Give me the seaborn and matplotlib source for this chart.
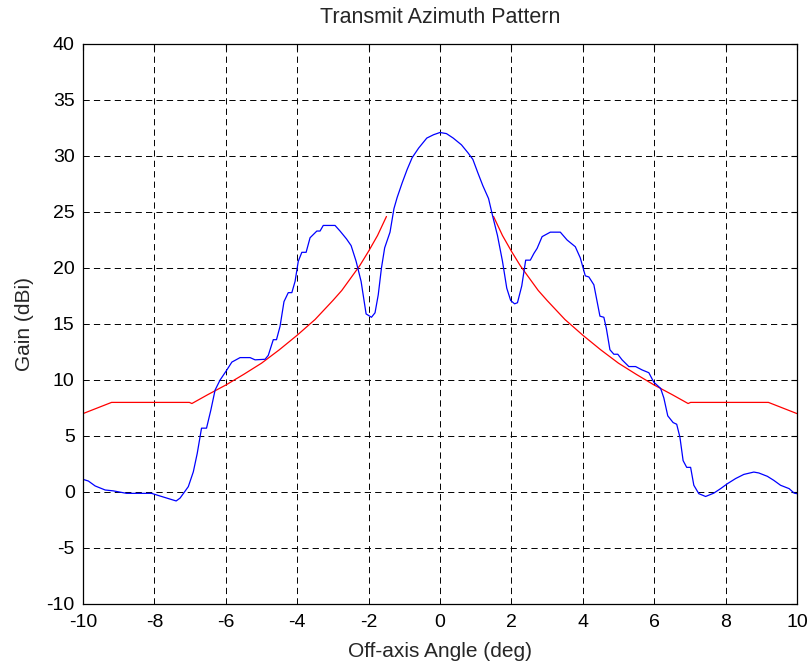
import matplotlib
matplotlib.use("Agg")
import matplotlib.pyplot as plt
import seaborn as sns
import pandas as pd

# ---- data ----
blue_angle = [-10.0, -9.85, -9.66, -9.38, -9.15, -8.78, -8.08, -7.84, -7.39, -7.28,
              -7.05, -6.91, -6.80, -6.68, -6.54, -6.42, -6.30, -6.16, -5.97, -5.83,
              -5.60, -5.32, -5.18, -4.90, -4.81, -4.67, -4.58, -4.48, -4.37, -4.25,
              -4.15, -4.06, -3.97, -3.87, -3.75, -3.64, -3.45, -3.36, -3.27, -2.94,
              -2.80, -2.62, -2.49, -2.35, -2.21, -2.07, -1.92, -1.82, -1.73, -1.64,
              -1.55, -1.40, -1.29, -1.20, -1.06, -0.92, -0.78, -0.60, -0.37, -0.18,
              0.0, 0.18, 0.37, 0.60, 0.78, 0.92, 1.06, 1.20, 1.36, 1.47,
              1.61, 1.75, 1.87, 1.98, 2.09, 2.17, 2.29, 2.40, 2.53, 2.63,
              2.72, 2.86, 3.09, 3.37, 3.56, 3.79, 3.93, 4.07, 4.17, 4.31,
              4.48, 4.59, 4.66, 4.76, 4.87, 4.98, 5.10, 5.29, 5.48, 5.66,
              5.85, 5.99, 6.18, 6.27, 6.38, 6.53, 6.63, 6.72, 6.81, 6.91,
              7.02, 7.11, 7.25, 7.44, 7.67, 7.86, 8.05, 8.28, 8.51, 8.79,
              8.93, 9.17, 9.35, 9.54, 9.78, 9.92, 10.0]
blue_gain = [1.13, 0.98, 0.54, 0.18, 0.10, -0.12, -0.12, -0.36, -0.80, -0.54,
             0.48, 1.8, 3.45, 5.7, 5.7, 7.3, 9.1, 10.0, 10.9, 11.6,
             12.0, 12.0, 11.8, 11.85, 12.2, 13.6, 13.6, 14.8, 17.0, 17.8,
             17.8, 18.8, 20.6, 21.4, 21.4, 22.7, 23.3, 23.3, 23.8, 23.8,
             23.3, 22.6, 22.0, 20.6, 18.8, 15.9, 15.6, 16.0, 17.6, 20.0,
             21.8, 23.2, 25.3, 26.3, 27.6, 28.8, 29.85, 30.7, 31.6, 31.9,
             32.1, 32.0, 31.6, 31.0, 30.3, 29.7, 28.5, 27.35, 26.2, 24.7,
             22.9, 20.6, 18.2, 17.1, 16.8, 16.9, 18.4, 20.7, 20.7, 21.3,
             21.75, 22.8, 23.2, 23.2, 22.5, 21.9, 20.9, 19.3, 19.2, 18.5,
             15.7, 15.6, 14.6, 12.7, 12.3, 12.3, 11.8, 11.2, 11.2, 10.9,
             10.65, 9.8, 9.25, 8.4, 6.8, 6.2, 6.05, 4.9, 2.8, 2.2,
             2.2, 0.6, -0.15, -0.4, -0.1, 0.3, 0.74, 1.2, 1.57, 1.78,
             1.7, 1.4, 1.04, 0.6, 0.3, -0.1, -0.15]

red_left_angle = [-10.0, -9.6, -9.2, -7.02, -6.95, -6.5, -6.0, -5.5, -5.0, -4.5,
                  -4.0, -3.5, -3.0, -2.75, -2.5, -2.25, -2.0, -1.75, -1.5]
red_left_gain = [7.0, 7.5, 8.0, 8.0, 7.9, 8.7, 9.55, 10.5, 11.5, 12.7,
                 14.0, 15.4, 17.1, 18.0, 19.1, 20.2, 21.5, 22.9, 24.6]
red_right_angle = [1.5, 1.75, 2.0, 2.25, 2.5, 2.75, 3.0, 3.5, 4.0, 4.5,
                   5.0, 5.5, 6.0, 6.5, 6.95, 7.02, 9.2, 9.6, 10.0]
red_right_gain = [24.6, 22.9, 21.5, 20.2, 19.1, 18.0, 17.1, 15.4, 14.0, 12.7,
                  11.5, 10.5, 9.55, 8.7, 7.9, 8.0, 8.0, 7.5, 7.0]

x_ticks = [-10, -8, -6, -4, -2, 0, 2, 4, 6, 8, 10]
y_ticks = [-10, -5, 0, 5, 10, 15, 20, 25, 30, 35, 40]

title = "Transmit Azimuth Pattern"
xlabel = "Off-axis Angle (deg)"
ylabel = "Gain (dBi)"

# ---- plotting ----
sns.set_style("white")
plt.rcParams["font.family"] = ["Liberation Sans", "DejaVu Sans"]
plt.rcParams["lines.scale_dashes"] = False

fig = plt.figure(figsize=(8.12, 6.68), dpi=100)
ax = fig.add_axes([83 / 812, 1 - 604 / 668, (797 - 83) / 812, (604 - 44) / 668])

df_blue = pd.DataFrame({"angle": blue_angle, "gain": blue_gain})
df_rl = pd.DataFrame({"angle": red_left_angle, "gain": red_left_gain})
df_rr = pd.DataFrame({"angle": red_right_angle, "gain": red_right_gain})

sns.lineplot(data=df_rl, x="angle", y="gain", ax=ax, color="#ff0000", lw=0.9,
             sort=False, estimator=None)
sns.lineplot(data=df_rr, x="angle", y="gain", ax=ax, color="#ff0000", lw=0.9,
             sort=False, estimator=None)
sns.lineplot(data=df_blue, x="angle", y="gain", ax=ax, color="#0000ff", lw=0.9,
             sort=False, estimator=None)

ax.set_xlim(-10, 10)
ax.set_ylim(-10, 40)
ax.set_xticks(x_ticks)
ax.set_yticks(y_ticks)
ax.set_xticklabels([str(t) for t in x_ticks])
ax.set_yticklabels([str(t) for t in y_ticks])

ax.grid(True, color="black", linestyle=(0, (4.5, 3.0)), linewidth=0.7)
ax.set_axisbelow(True)
for s in ax.spines.values():
    s.set_visible(True)
    s.set_color("black")
    s.set_linewidth(0.9)

ax.tick_params(direction="in", length=4, width=0.8, top=True, right=True,
               labelsize=14, colors="black")
ax.tick_params(axis="x", pad=7)
ax.tick_params(axis="y", pad=6)
ax.set_title(title, fontsize=15.5, pad=15)
ax.set_xlabel(xlabel, fontsize=15, labelpad=8)
ax.set_ylabel(ylabel, fontsize=15, labelpad=9)

fig.savefig("out.png", dpi=100, facecolor="white")
